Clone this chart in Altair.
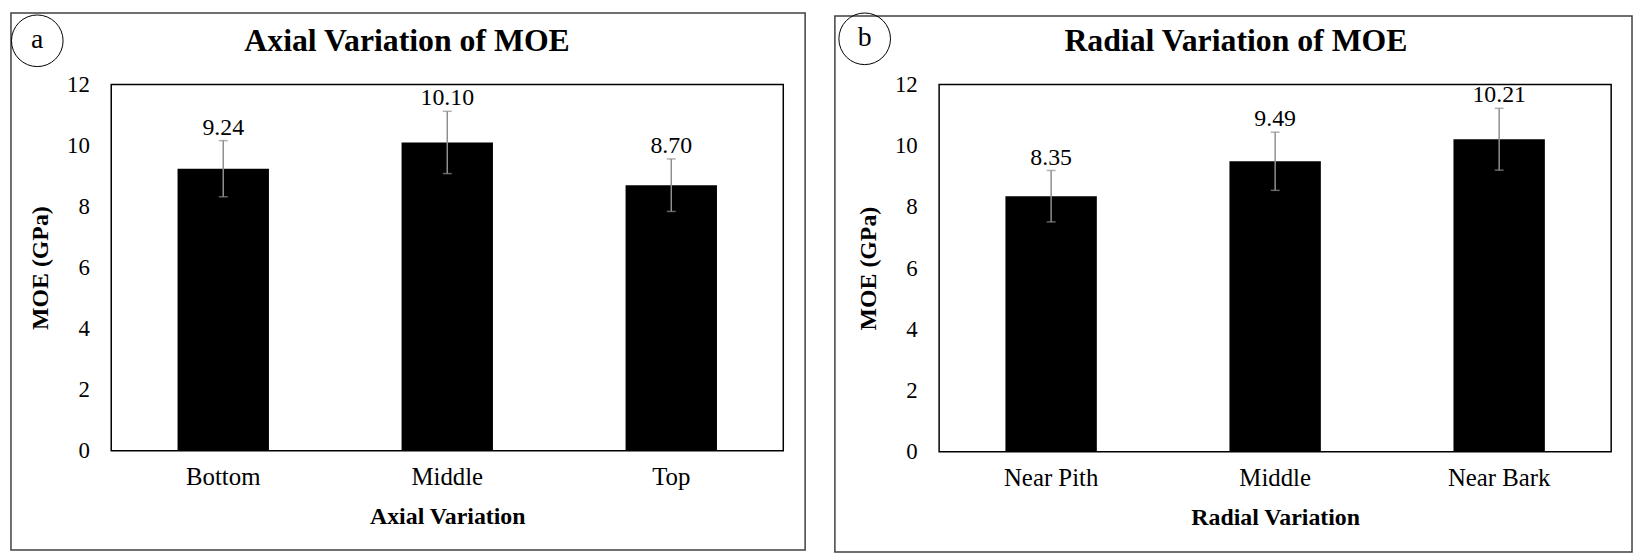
import altair as alt
import pandas as pd

# ---- data ----
axial_cats = ["Bottom", "Middle", "Top"]
axial_moe = [9.24, 10.10, 8.70]
axial_err = [0.92, 1.02, 0.86]

radial_cats = ["Near Pith", "Middle", "Near Bark"]
radial_moe = [8.35, 9.49, 10.21]
radial_err = [0.84, 0.95, 1.01]

y_ticks = [0, 2, 4, 6, 8, 10, 12]

FONT = "Times New Roman, Liberation Serif, serif"
ERR_COLOR = "#8f8f8f"


def panel(cats, vals, errs, title, xtitle, letter, W, H, box, circ, title_x, title_y):
    df = pd.DataFrame({
        "cat": cats,
        "moe": vals,
        "lo": [v - e for v, e in zip(vals, errs)],
        "hi": [v + e for v, e in zip(vals, errs)],
        "label": [f"{v:.2f}" for v in vals],
    })
    x = alt.X(
        "cat:N", sort=cats,
        scale=alt.Scale(paddingInner=0.592, paddingOuter=0.296),
        axis=alt.Axis(
            title=xtitle, labelAngle=0, ticks=False, domain=False,
            labelFont=FONT, labelFontSize=25, labelColor="black", labelPadding=14,
            titleFont=FONT, titleFontSize=24, titleFontWeight="bold",
            titleColor="black", titlePadding=15,
        ),
    )
    yscale = alt.Scale(domain=[0, 12], nice=False)
    y = alt.Y(
        "moe:Q", scale=yscale,
        axis=alt.Axis(
            values=y_ticks, title="MOE (GPa)", grid=False, ticks=False, domain=False,
            labelFont=FONT, labelFontSize=23, labelColor="black", labelPadding=22,
            titleFont=FONT, titleFontSize=24, titleFontWeight="bold",
            titleColor="black", titlePadding=14,
        ),
    )
    base = alt.Chart(df)
    bars = base.mark_bar(color="black").encode(x=x, y=y)
    rule = base.mark_rule(color=ERR_COLOR, strokeWidth=1.5).encode(
        x=alt.X("cat:N", sort=cats), y=alt.Y("lo:Q", scale=yscale), y2="hi:Q")
    cap_hi = base.mark_tick(color=ERR_COLOR, thickness=1.5, size=9).encode(
        x=alt.X("cat:N", sort=cats), y=alt.Y("hi:Q", scale=yscale))
    cap_lo = base.mark_tick(color=ERR_COLOR, thickness=1.5, size=9).encode(
        x=alt.X("cat:N", sort=cats), y=alt.Y("lo:Q", scale=yscale))
    labels = base.mark_text(font=FONT, fontSize=24, color="black",
                            baseline="alphabetic", align="center", dy=-6).encode(
        x=alt.X("cat:N", sort=cats), y=alt.Y("hi:Q", scale=yscale), text="label:N")

    one = pd.DataFrame({"t": [title], "l": [letter]})
    frame = alt.Chart(one).mark_rect(filled=False, stroke="#404040", strokeWidth=1.5).encode(
        x=alt.value(box[0]), x2=alt.value(box[1]), y=alt.value(box[2]), y2=alt.value(box[3]))
    ttl = alt.Chart(one).mark_text(font=FONT, fontSize=32, fontWeight="bold", color="black",
                                   baseline="alphabetic", align="center").encode(
        text="t:N", x=alt.value(title_x), y=alt.value(title_y))
    circle = alt.Chart(one).mark_point(shape="circle", size=2704, filled=False,
                                       stroke="black", strokeWidth=1, opacity=1).encode(
        x=alt.value(circ[0]), y=alt.value(circ[1]))
    let = alt.Chart(one).mark_text(font=FONT, fontSize=28, color="black",
                                   baseline="middle", align="center").encode(
        text="l:N", x=alt.value(circ[0]), y=alt.value(circ[1] - 1))

    return alt.layer(frame, bars, rule, cap_hi, cap_lo, labels, ttl, circle, let).properties(
        width=W, height=H)


pa = panel(axial_cats, axial_moe, axial_err, "Axial Variation of MOE", "Axial Variation", "a",
           677, 369, (-101, 699, -72, 469), (-74.5, -44), 298, -34)
pb = panel(radial_cats, radial_moe, radial_err, "Radial Variation of MOE", "Radial Variation", "b",
           677, 370, (-105, 698, -69, 471), (-75, -46), 299, -34)

chart = alt.hconcat(pa, pb, spacing=26).properties(
    padding={"left": 0, "top": 0, "right": 0, "bottom": 0},
    background="white",
).configure_view(stroke="black", strokeWidth=1.5)

chart.save("out.html", embed_options={"renderer": "svg", "actions": False})
